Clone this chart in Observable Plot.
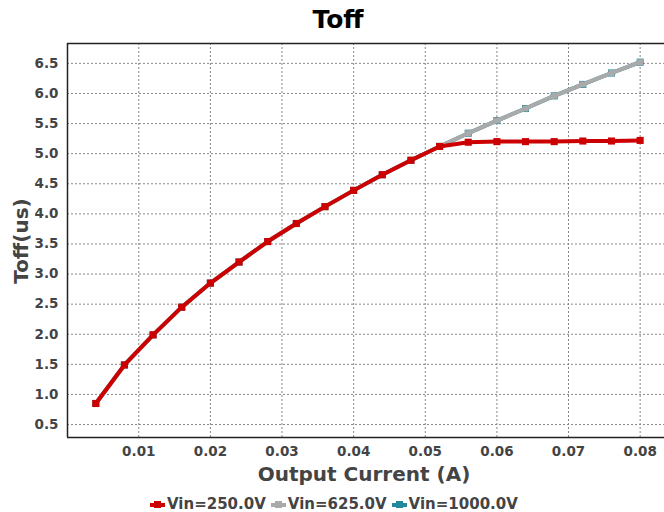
<!DOCTYPE html>
<html>
<head>
<meta charset="utf-8">
<script src="https://cdn.jsdelivr.net/npm/d3@7"></script>
<script src="https://cdn.jsdelivr.net/npm/@observablehq/plot@0.6"></script>
<style>
  body { margin: 0; background: #fff; }
  #wrap { position: relative; width: 664px; height: 512px; font-family: "DejaVu Sans", sans-serif; overflow: hidden; }
  .abs { position: absolute; white-space: nowrap; }
  #title { left: 0; width: 676px; top: 5px; text-align: center; font-weight: bold; font-size: 25px; color: #000; }
  #xlabel { left: 67px; width: 594px; top: 462px; text-align: center; font-weight: bold; font-size: 20px; color: #444; }
  #ylabel { left: 21px; top: 241px; transform: translate(-50%, -50%) rotate(-90deg); font-weight: bold; font-size: 20px; color: #444; }
  #legend { left: 150px; top: 497px; height: 15px; line-height: 15px; font-weight: bold; font-size: 15px; color: #444; display: flex; align-items: center; }
  .sw { display: inline-block; position: relative; width: 15px; height: 4px; margin-right: 2px; }
  .sw i { position: absolute; left: 4px; top: -2px; width: 7px; height: 7px; }
  .item { display: flex; align-items: center; margin-right: 5px; }
</style>
</head>
<body>
<div id="wrap">
  <div id="title" class="abs">Toff</div>
  <div id="chart" class="abs" style="left:0;top:0"></div>
  <div id="xlabel" class="abs">Output Current (A)</div>
  <div id="ylabel" class="abs">Toff(us)</div>
  <div id="legend" class="abs"></div>
</div>
<script>
const current = [0.004, 0.008, 0.012, 0.016, 0.020, 0.024, 0.028, 0.032, 0.036, 0.040,
                 0.044, 0.048, 0.052, 0.056, 0.060, 0.064, 0.068, 0.072, 0.076, 0.080];
const toff250  = [0.85, 1.49, 1.99, 2.45, 2.85, 3.20, 3.54, 3.84, 4.12, 4.39,
                  4.65, 4.89, 5.12, 5.19, 5.20, 5.20, 5.20, 5.21, 5.21, 5.22];
const toff625  = [0.85, 1.49, 1.99, 2.45, 2.85, 3.20, 3.54, 3.84, 4.12, 4.39,
                  4.65, 4.89, 5.12, 5.34, 5.55, 5.75, 5.96, 6.15, 6.34, 6.52];
const toff1000 = [0.85, 1.49, 1.99, 2.45, 2.85, 3.20, 3.54, 3.84, 4.12, 4.39,
                  4.65, 4.89, 5.12, 5.34, 5.55, 5.75, 5.96, 6.15, 6.34, 6.52];
const seriesNames = ["Vin=250.0V", "Vin=625.0V", "Vin=1000.0V"];
const seriesColors = ["#cc0000", "#aaaaaa", "#21899b"];
const xTicks = [0.01, 0.02, 0.03, 0.04, 0.05, 0.06, 0.07, 0.08];
const yTicks = [0.5, 1.0, 1.5, 2.0, 2.5, 3.0, 3.5, 4.0, 4.5, 5.0, 5.5, 6.0, 6.5];

const mk = (vals) => current.map((x, i) => ({x, y: vals[i]}));
const d250 = mk(toff250), d625 = mk(toff625), d1000 = mk(toff1000);

const xDomain = [0.00005, 0.0834];
const yDomain = [0.285, 6.83];
const tickStyle = {fontFamily: "DejaVu Sans", fontSize: 13.5, fontWeight: "bold"};

const chart = Plot.plot({
  width: 664,
  height: 512,
  marginLeft: 67,
  marginRight: 0,
  marginTop: 43,
  marginBottom: 75,
  style: {fontFamily: "DejaVu Sans", background: "transparent", overflow: "hidden"},
  x: {domain: xDomain},
  y: {domain: yDomain},
  marks: [
    Plot.gridX(xTicks, {stroke: "#888", strokeOpacity: 1, strokeWidth: 1, strokeDasharray: "2,2"}),
    Plot.gridY(yTicks, {stroke: "#888", strokeOpacity: 1, strokeWidth: 1, strokeDasharray: "2,2"}),
    Plot.axisX(xTicks, {tickSize: 0, tickPadding: 9, tickFormat: d3.format(".2f"), label: null, color: "#444", ...tickStyle}),
    Plot.axisY(yTicks, {tickSize: 0, tickPadding: 9, tickFormat: d3.format(".1f"), label: null, color: "#444", ...tickStyle}),
    Plot.lineY(d1000, {x: "x", y: "y", stroke: seriesColors[2], strokeWidth: 4}),
    Plot.dot(d1000, {x: "x", y: "y", symbol: "square", r: 4, fill: seriesColors[2]}),
    Plot.lineY(d625, {x: "x", y: "y", stroke: seriesColors[1], strokeWidth: 4}),
    Plot.dot(d625, {x: "x", y: "y", symbol: "square", r: 3.4, fill: seriesColors[1]}),
    Plot.lineY(d250, {x: "x", y: "y", stroke: seriesColors[0], strokeWidth: 4}),
    Plot.dot(d250, {x: "x", y: "y", symbol: "square", r: 4, fill: seriesColors[0]}),
    Plot.ruleX([xDomain[0]], {stroke: "#222", strokeWidth: 1.5}),
    Plot.ruleY([yDomain[0], yDomain[1]], {stroke: "#222", strokeWidth: 1.5})
  ]
});
document.getElementById("chart").appendChild(chart);

const legend = document.getElementById("legend");
seriesNames.forEach((name, i) => {
  const item = document.createElement("div");
  item.className = "item";
  item.innerHTML = `<span class="sw" style="background:${seriesColors[i]}"><i style="background:${seriesColors[i]}"></i></span><span>${name}</span>`;
  legend.appendChild(item);
});
</script>
</body>
</html>
